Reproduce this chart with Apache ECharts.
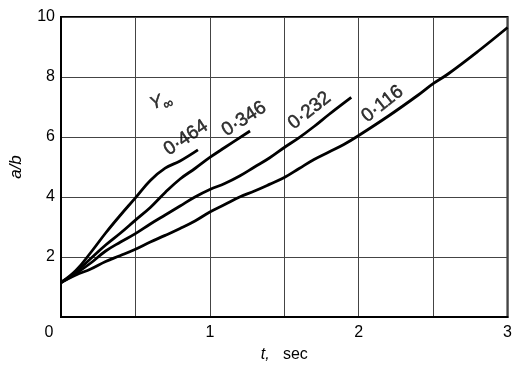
<!DOCTYPE html>
<html>
<head>
<meta charset="utf-8">
<script src="https://cdn.jsdelivr.net/npm/echarts@6/dist/echarts.min.js"></script>
<style>
  html, body { margin: 0; padding: 0; background: #fff; }
  #chart { width: 515px; height: 368px; }
</style>
</head>
<body>
<div id="chart"></div>
<script>
// 曲线数据 (t, a/b)，按 Y∞ 分组
var curve464 = [[0,1.15],[0.1,1.55],[0.2,2.15],[0.3,2.8],[0.4,3.4],[0.5,3.97],[0.6,4.55],[0.7,4.96],[0.8,5.2],[0.92,5.57]];
var curve346 = [[0,1.15],[0.1,1.5],[0.2,1.95],[0.3,2.4],[0.4,2.8],[0.5,3.23],[0.6,3.65],[0.7,4.15],[0.8,4.6],[0.9,4.95],[1.0,5.32],[1.1,5.65],[1.27,6.2]];
var curve232 = [[0,1.15],[0.1,1.45],[0.2,1.8],[0.3,2.2],[0.4,2.5],[0.5,2.78],[0.6,3.1],[0.7,3.4],[0.8,3.7],[0.9,4.0],[1.0,4.25],[1.1,4.45],[1.2,4.7],[1.3,5.0],[1.4,5.3],[1.5,5.65],[1.6,5.98],[1.7,6.35],[1.8,6.75],[1.95,7.32]];
var curve116 = [[0,1.15],[0.1,1.4],[0.2,1.6],[0.3,1.85],[0.4,2.05],[0.5,2.26],[0.6,2.5],[0.7,2.72],[0.8,2.95],[0.9,3.2],[1.0,3.5],[1.1,3.75],[1.2,4.0],[1.3,4.2],[1.4,4.42],[1.5,4.65],[1.6,4.95],[1.7,5.25],[1.8,5.5],[1.9,5.75],[2.0,6.05],[2.2,6.7],[2.4,7.4],[2.5,7.78],[2.6,8.1],[2.8,8.85],[3.0,9.65]];

var curveNames = ['0·464', '0·346', '0·232', '0·116'];
var xTickLabels = ['0', '1', '2', '3'];
var yTickLabels = ['2', '4', '6', '8', '10'];

// 标注位置 (数据坐标) 和旋转角度
var labelAnchors = [[0.84, 5.97], [1.23, 6.6], [1.67, 6.88], [2.16, 7.1]];
var labelAngles = [34, 33, 38, 38];
var gammaAnchor = [0.67, 7.2];

var myChart = echarts.init(document.getElementById('chart'));
var font = 'Liberation Sans, Arial, sans-serif';
var fs = 16;

var lineSeries = [curve464, curve346, curve232, curve116].map(function (d, i) {
  return {
    name: curveNames[i],
    type: 'line',
    data: d,
    smooth: 0.4,
    showSymbol: false,
    silent: true,
    lineStyle: { color: '#000', width: 2.8 }
  };
});

// 曲线标注
var labelData = labelAnchors.map(function (p, i) {
  return {
    value: p,
    label: { formatter: curveNames[i], rotate: labelAngles[i] }
  };
});
labelData.push({
  value: gammaAnchor,
  label: { formatter: '{y|Y}{s|∞}', rotate: 22 }
});

myChart.setOption({
  animation: false,
  grid: {
    left: 56, right: 4, top: 17, bottom: 42,
    show: true, borderColor: '#000', borderWidth: 2
  },
  xAxis: {
    type: 'value',
    min: 0, max: 3, interval: 0.5,
    name: '{i|t,}   sec',
    nameLocation: 'middle',
    nameGap: 30,
    nameTextStyle: {
      color: '#000', fontFamily: font, fontSize: fs,
      rich: { i: { fontStyle: 'italic', fontFamily: font, fontSize: fs, color: '#000' } }
    },
    axisLine: { show: true, lineStyle: { color: '#000', width: 2 } },
    axisTick: { show: false },
    splitLine: { show: true, lineStyle: { color: '#444', width: 1 } },
    axisLabel: {
      color: '#000', fontFamily: font, fontSize: fs, margin: 8,
      formatter: function (v) {
        if (v === 0) return '{z|' + xTickLabels[0] + '}';
        var i = xTickLabels.indexOf(String(v));
        return i >= 0 ? xTickLabels[i] : '';
      },
      rich: { z: { padding: [0, 24, 0, 0], fontFamily: font, fontSize: fs, color: '#000' } }
    }
  },
  yAxis: {
    type: 'value',
    min: 0, max: 10, interval: 2,
    name: 'a/b',
    nameLocation: 'middle',
    nameGap: 36,
    nameRotate: 90,
    nameTextStyle: { color: '#000', fontFamily: font, fontSize: 17, fontStyle: 'italic' },
    axisLine: { show: true, lineStyle: { color: '#000', width: 2 } },
    axisTick: { show: false },
    splitLine: { show: true, lineStyle: { color: '#444', width: 1 } },
    axisLabel: {
      color: '#000', fontFamily: font, fontSize: fs, margin: 6,
      formatter: function (v) {
        var i = yTickLabels.indexOf(String(v));
        return i >= 0 ? yTickLabels[i] : '';
      }
    }
  },
  series: lineSeries.concat([{
    type: 'scatter',
    data: labelData,
    symbolSize: 0,
    silent: true,
    label: {
      show: true,
      position: 'inside',
      color: '#000',
      textBorderColor: '#000',
      textBorderWidth: 0.5,
      fontFamily: font,
      fontSize: 19,
      rich: {
        y: { fontFamily: font, fontStyle: 'italic', fontSize: 18, color: '#000', textBorderColor: '#000', textBorderWidth: 0.5 },
        s: { fontFamily: font, fontSize: 14, color: '#000', textBorderColor: '#000', textBorderWidth: 0.5, padding: [12, 0, 0, 0] }
      }
    }
  }])
});
</script>
</body>
</html>
